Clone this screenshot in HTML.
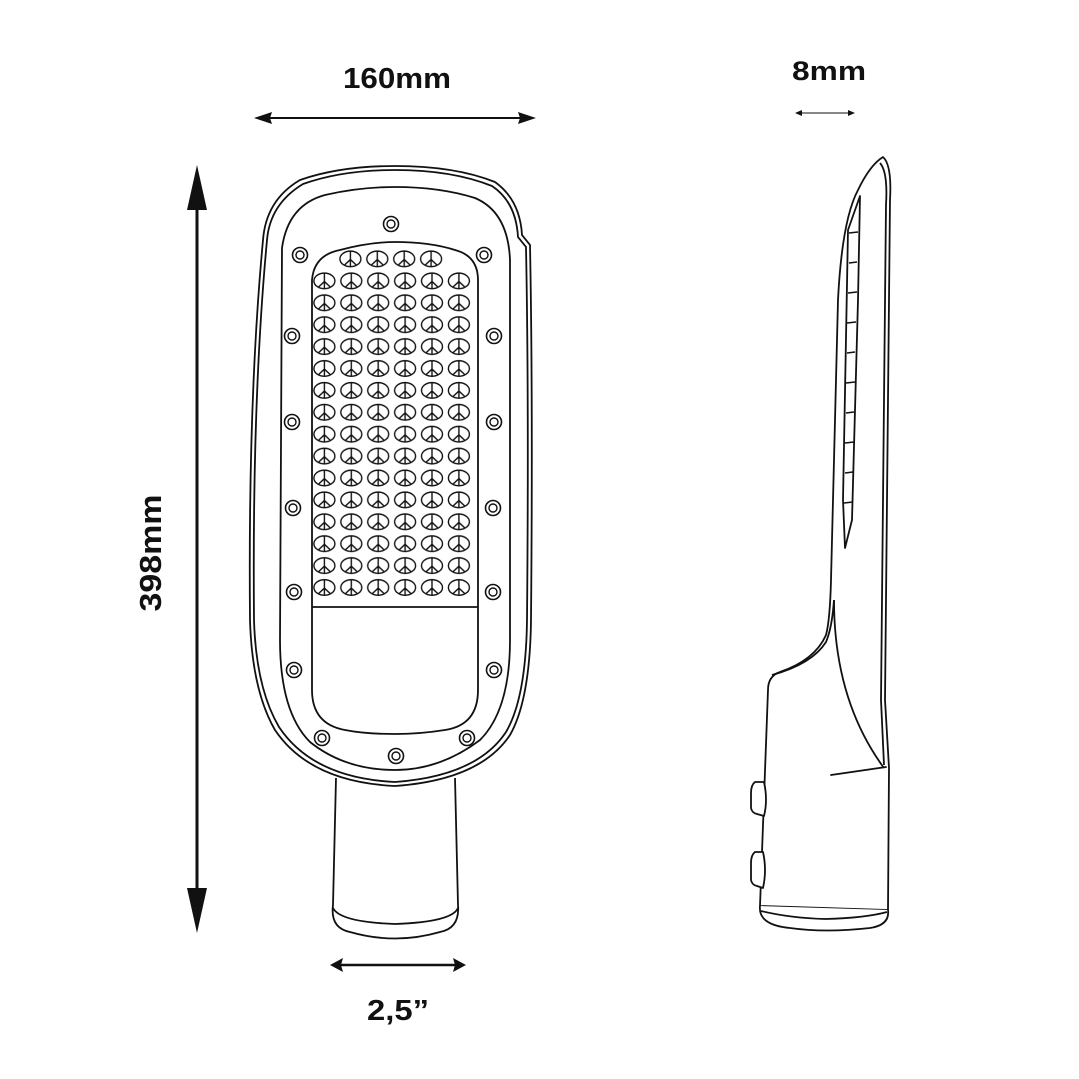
<!DOCTYPE html>
<html><head><meta charset="utf-8"><style>
html,body{margin:0;padding:0;background:#fff;}
svg{display:block;}
text{font-family:"Liberation Sans",sans-serif;font-weight:bold;fill:#111;}
</style></head><body>
<svg width="1079" height="1079" viewBox="0 0 1079 1079" xmlns="http://www.w3.org/2000/svg">
<defs>
<pattern id="led" x="311" y="270" width="26.9" height="21.9" patternUnits="userSpaceOnUse">
<g fill="none" stroke="#111" stroke-width="1.4">
<ellipse cx="13.4" cy="10.9" rx="10.5" ry="7.8"/>
<path d="M13.4 3.2V18.7M13.4 11.5L7.5 17M13.4 11.5L19.3 17"/>
</g>
</pattern>
<pattern id="led1" x="337" y="248" width="26.9" height="21.9" patternUnits="userSpaceOnUse">
<g fill="none" stroke="#111" stroke-width="1.4">
<ellipse cx="13.4" cy="10.9" rx="10.5" ry="7.8"/>
<path d="M13.4 3.2V18.7M13.4 11.5L7.5 17M13.4 11.5L19.3 17"/>
</g>
</pattern>
<g id="scr"><circle r="7.5" fill="#fff" stroke="#111" stroke-width="1.6"/><circle r="4" fill="none" stroke="#111" stroke-width="1.4"/></g>
</defs>

<!-- dimension labels -->
<text x="397" y="88" font-size="29" text-anchor="middle" textLength="108" lengthAdjust="spacingAndGlyphs">160mm</text>
<text x="829" y="80" font-size="27" text-anchor="middle" textLength="74" lengthAdjust="spacingAndGlyphs">8mm</text>
<text x="398" y="1020" font-size="29" text-anchor="middle" textLength="62" lengthAdjust="spacingAndGlyphs">2,5”</text>
<text transform="translate(161,553) rotate(-90)" font-size="31" text-anchor="middle" textLength="117" lengthAdjust="spacingAndGlyphs">398mm</text>

<!-- arrows -->
<g stroke="#111" stroke-width="2" fill="#111">
<line x1="265" y1="118" x2="525" y2="118"/>
<path d="M254 118L272 112L270 118L272 124Z" stroke="none"/>
<path d="M536 118L518 112L520 118L518 124Z" stroke="none"/>
<line x1="197" y1="200" x2="197" y2="900" stroke-width="3"/>
<path d="M197 165L187 210L207 210Z" stroke="none"/>
<path d="M197 933L187 888L207 888Z" stroke="none"/>
<line x1="340" y1="965" x2="455" y2="965" stroke-width="2.5"/>
<path d="M330 965L343 958L341 965L343 972Z" stroke="none"/>
<path d="M466 965L453 958L455 965L453 972Z" stroke="none"/>
<line x1="799" y1="113" x2="851" y2="113" stroke-width="1"/>
<path d="M795 113L802 110L802 116Z" stroke="none"/>
<path d="M855 113L848 110L848 116Z" stroke="none"/>
</g>

<!-- front view -->
<g fill="none" stroke="#111" stroke-width="1.8">
<path d="M336 778L333 905 M455 778L458 905"/>
<path d="M333 905Q330 928 350 932Q395 945 440 932Q460 928 458 905" fill="#fff"/>
<path d="M333 908Q340 922 395 924Q452 922 458 908"/>
<path d="M263 240Q266 200 300 180Q340 166 395 166Q455 166 495 182Q520 200 522 235L530 245Q533 400 531 620Q530 700 510 735Q480 780 395 786Q310 782 275 730Q252 690 250 620Q248 400 263 240Z" fill="#fff"/>
<path d="M267 240Q270 204 303 184Q342 170 395 170Q452 170 492 186Q516 202 518 237L526 247Q529 400 527 620Q526 698 506 732Q477 776 395 782Q313 778 279 727Q256 688 254 620Q252 400 267 240Z"/>
<path d="M282 248Q288 205 325 195Q360 187 395 187Q440 187 475 198Q508 212 510 260L510 640Q510 710 480 740Q440 770 395 770Q345 770 310 742Q280 712 280 640Z"/>
<path d="M312 280Q314 255 340 250Q370 242 395 242Q430 242 455 250Q478 256 478 280L478 690Q478 725 445 730Q420 734 395 734Q365 734 345 730Q312 724 312 690Z"/>
<line x1="312" y1="607" x2="478" y2="607"/>
</g>
<rect x="311" y="270" width="161.4" height="328.5" fill="url(#led)"/>
<rect x="337" y="248" width="107.6" height="21.9" fill="url(#led1)"/>

<use href="#scr" x="391" y="224"/>
<use href="#scr" x="300" y="255"/><use href="#scr" x="484" y="255"/>
<use href="#scr" x="292" y="336"/><use href="#scr" x="494" y="336"/>
<use href="#scr" x="292" y="422"/><use href="#scr" x="494" y="422"/>
<use href="#scr" x="293" y="508"/><use href="#scr" x="493" y="508"/>
<use href="#scr" x="294" y="592"/><use href="#scr" x="493" y="592"/>
<use href="#scr" x="294" y="670"/><use href="#scr" x="494" y="670"/>
<use href="#scr" x="322" y="738"/><use href="#scr" x="467" y="738"/>
<use href="#scr" x="396" y="756"/>

<!-- side view -->
<g fill="none" stroke="#111" stroke-width="1.8" stroke-linejoin="round">
<path d="M883 157Q892 165 890 200L888 400Q886 600 885 700L889 768L888 910L760 906L768 690Q768 676 780 672Q815 660 826 635Q830 620 831 580L838 300Q842 220 858 190Q870 165 883 157Z" fill="#fff"/>
<path d="M880 163Q888 172 886 205L884 400Q882 600 881 700L884 765"/>
<path d="M772 675Q812 664 826 642Q832 628 834 600"/>
<path d="M834 600Q834 700 884 768"/>
<path d="M831 775L886 767L845 773Z" fill="#111"/>
<path d="M860 196L848 230L843 500L845 548L852 520L858 300Z"/>
<g stroke-width="1.5">
<line x1="849" y1="233" x2="858" y2="232"/><line x1="849" y1="263" x2="857" y2="262"/>
<line x1="848" y1="293" x2="857" y2="292"/><line x1="847" y1="323" x2="856" y2="322"/>
<line x1="847" y1="353" x2="855" y2="352"/><line x1="846" y1="383" x2="855" y2="382"/>
<line x1="846" y1="413" x2="854" y2="412"/><line x1="845" y1="443" x2="854" y2="442"/>
<line x1="845" y1="473" x2="853" y2="472"/><line x1="844" y1="503" x2="853" y2="502"/>
</g>
<path d="M760 906Q758 925 790 928Q825 933 870 928Q890 925 888 910" fill="#fff"/>
<path d="M761 911Q790 918 825 919Q865 918 887 912"/>
<path d="M764 782L755 782Q751 785 751 793L751 808Q752 813 757 814L764 816Q768 800 764 782Z" fill="#fff"/>
<path d="M763 852L755 852Q751 855 751 863L751 880Q752 885 757 886L763 888Q767 870 763 852Z" fill="#fff"/>
</g>
</svg>
</body></html>
